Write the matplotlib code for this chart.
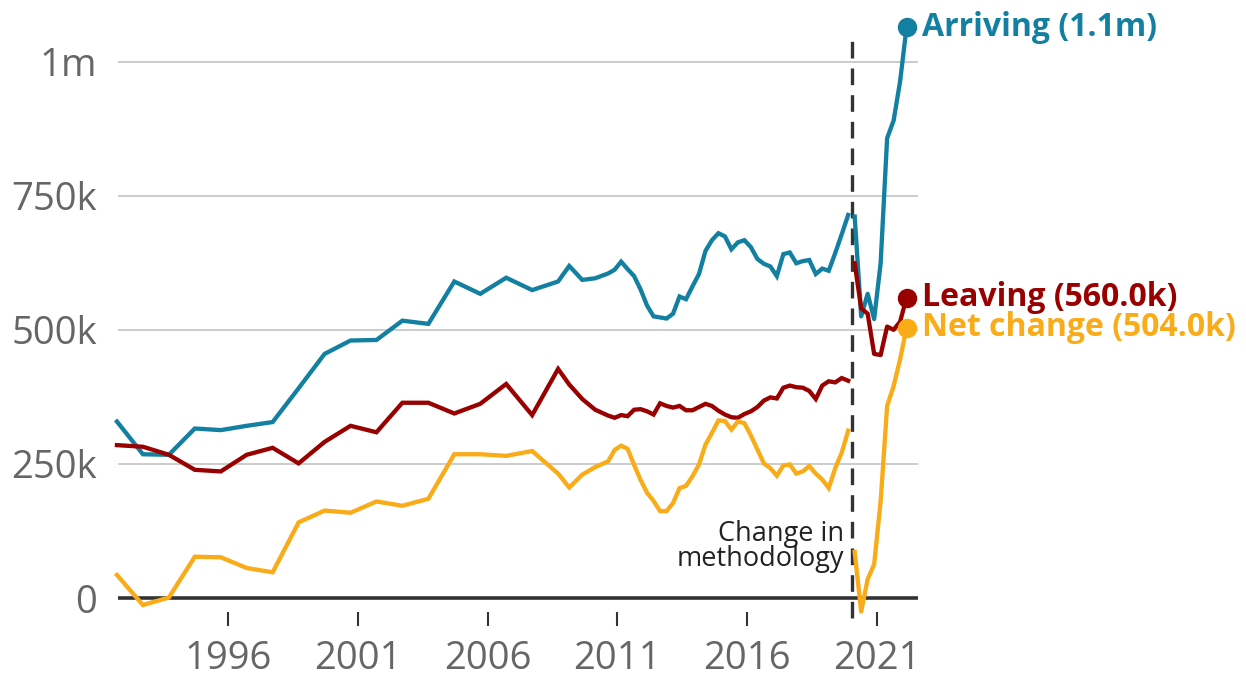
import matplotlib
matplotlib.use("Agg")
import matplotlib.pyplot as plt
from matplotlib.ticker import FuncFormatter

# --- data (thousands of people) ---
annual_years = list(range(1991, 2009))
arriving_annual = [329, 268, 267, 316, 313, 321, 328, 391, 455, 480, 481, 517, 511, 590, 567, 597, 574, 590]
leaving_annual = [285, 282, 267, 239, 236, 267, 280, 251, 291, 321, 309, 364, 364, 344, 362, 399, 341, 427]
net_annual = [43, -13, 1, 77, 76, 56, 48, 141, 163, 159, 180, 172, 185, 268, 268, 265, 274, 232]

# rolling year-ending quarters before the methodology change
old_quarters = [(2009, 2), (2009, 4), (2010, 2), (2010, 4)] + \
    [(y, q) for y in range(2011, 2020) for q in (1, 2, 3, 4)] + [(2020, 1)]
arriving_old = [619, 593, 596, 605, 612, 627, 613, 600, 575, 545, 525, 523, 521, 530, 562, 557,
                581, 604, 647, 667, 680, 674, 650, 663, 667, 654, 632, 623, 618, 600, 641, 644,
                624, 628, 630, 604, 614, 610, 643, 678, 714]
leaving_old = [398, 371, 351, 340, 336, 341, 339, 351, 352, 348, 342, 363, 358, 355, 358, 350,
               350, 356, 362, 358, 349, 342, 337, 336, 343, 348, 356, 368, 374, 372, 392, 396,
               393, 392, 386, 371, 396, 404, 402, 410, 405]
net_old = [206, 230, 244, 255, 276, 284, 278, 248, 220, 196, 181, 162, 162, 177, 205, 209,
           227, 249, 286, 308, 331, 330, 314, 329, 326, 303, 277, 251, 242, 228, 247, 249,
           232, 236, 246, 232, 221, 205, 242, 271, 312]

# new methodology
new_quarters = [(2020, 2), (2020, 3), (2020, 4), (2021, 1), (2021, 2), (2021, 3), (2021, 4),
                (2022, 1), (2022, 2)]
arriving_new = [711, 525, 567, 520, 624, 857, 890, 963, 1064]
leaving_new = [624, 540, 530, 455, 453, 506, 500, 515, 560]
net_new = [86, -25, 35, 63, 180, 358, 395, 445, 504]

method_change = 2020.03
xtick_years = [1996, 2001, 2006, 2011, 2016, 2021]
ytick_vals = [0, 250000, 500000, 750000, 1000000]


def qpos(y, q):
    return y + 0.25 * q - 0.35


x_old = [y + 0.72 for y in annual_years] + [qpos(y, q) for y, q in old_quarters]
x_new = [qpos(y, q) for y, q in new_quarters]

series = [
    ("Arriving", "#1380A1", arriving_annual + arriving_old, arriving_new),
    ("Leaving", "#990000", leaving_annual + leaving_old, leaving_new),
    ("Net change", "#FAAB18", net_annual + net_old, net_new),
]

plt.rcParams["font.family"] = ["Open Sans", "DejaVu Sans"]

W, H = 1246, 677
fig = plt.figure(figsize=(W / 100, H / 100), dpi=100)
ax = fig.add_axes([118 / W, (H - 612) / H, 800 / W, (612 - 10) / H])

ax.set_xlim(1991.76, 2022.59)
ax.set_ylim(-26000, 1096000)

for y in ytick_vals[1:]:
    ax.axhline(y, color="#cccccc", lw=1.4, zorder=1)
ax.axhline(0, color="#333333", lw=2.6, zorder=2)

ax.plot([method_change, method_change], [-38000, 1045000], color="#333333", lw=2.4,
        dashes=(5, 3), clip_on=False, zorder=3)
ax.text(method_change - 0.3, 96000, "Change in\nmethodology", ha="right", va="center",
        fontsize=19.5, color="#222222", linespacing=0.9, zorder=3)


def fmt(v):
    if v >= 1e6:
        return f"{v / 1e6:.1f}m"
    return f"{v / 1e3:.1f}k"


for name, color, old_vals, new_vals in series:
    ax.plot(x_old, [v * 1000 for v in old_vals], color=color, lw=3.1, clip_on=False,
            solid_joinstyle="miter", zorder=4)
    new_y = [v * 1000 for v in new_vals]
    ax.plot(x_new, new_y, color=color, lw=3.1, clip_on=False, zorder=4)
    ax.plot(x_new[-1], new_y[-1], "o", color=color, ms=13, clip_on=False, zorder=5)
    ax.annotate(f"{name} ({fmt(new_y[-1])})", xy=(x_new[-1], new_y[-1]), xytext=(11, 0),
                textcoords="offset points", va="center", ha="left", color=color,
                fontsize=23, fontweight="bold", annotation_clip=False)

ax.set_xticks(xtick_years)
ax.set_xticklabels([str(y) for y in xtick_years])
ax.set_yticks(ytick_vals)
ax.yaxis.set_major_formatter(FuncFormatter(
    lambda v, p: "0" if v == 0 else ("1m" if v == 1e6 else f"{int(v / 1000)}k")))
ax.tick_params(axis="x", length=10, width=1.5, color="#333333", pad=10,
               labelsize=27.5, labelcolor="#666666")
ax.tick_params(axis="y", length=0, pad=15, labelsize=27.5, labelcolor="#666666")
for s in ax.spines.values():
    s.set_visible(False)
ax.set_facecolor("none")

fig.savefig("out.png", dpi=100)
